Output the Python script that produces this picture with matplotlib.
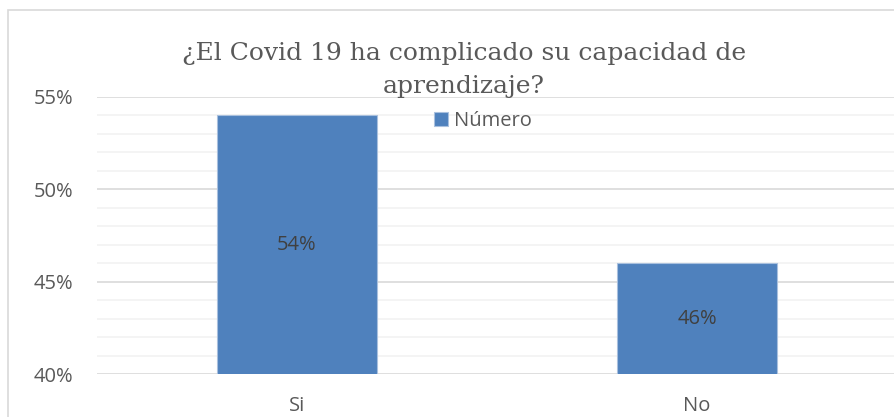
import matplotlib.pyplot as plt
from matplotlib.patches import Rectangle
from matplotlib.ticker import MultipleLocator, FuncFormatter

categories = ['Si', 'No']
valores = [54, 46]
etiquetas = ['54%', '46%']
serie = 'Número'
titulo = ['¿El Covid 19 ha complicado su capacidad de', 'aprendizaje?']

azul = '#4F81BD'
gris = '#595959'

plt.rcParams['font.family'] = ['Open Sans', 'DejaVu Sans']

W, H = 894, 417
fig = plt.figure(figsize=(W / 100, H / 100), dpi=100)

# marco del grafico
fig.patches.append(Rectangle((8 / W, -0.1), 1.2, 1 - 10 / H + 0.1, transform=fig.transFigure,
                             fill=False, edgecolor='#D9D9D9', linewidth=1.2, zorder=0))

ax = fig.add_axes([97 / W, 1 - 374 / H, 800 / W, 277 / H])
ax.set_facecolor('none')

x = range(len(categories))
ax.bar(x, valores, width=0.4, color=azul, edgecolor='#A9C0DE', linewidth=0.8,
       zorder=3, label=serie)

for xi, v, t in zip(x, valores, etiquetas):
    ax.text(xi, (40 + v) / 2, t, ha='center', va='center', fontsize=14.5, color='#404040', zorder=4)

ax.set_xlim(-0.5, 1.5)
ax.set_ylim(40, 55)
ax.yaxis.set_major_locator(MultipleLocator(5))
ax.yaxis.set_minor_locator(MultipleLocator(1))
ax.yaxis.set_major_formatter(FuncFormatter(lambda v, p: f'{v:.0f}%'))
ax.grid(axis='y', which='major', color='#D9D9D9', linewidth=1.2, zorder=1)
ax.grid(axis='y', which='minor', color='#F2F2F2', linewidth=1.2, zorder=1)

ax.set_xticks(list(x))
ax.set_xticklabels(categories)
ax.tick_params(axis='both', which='both', length=0, labelsize=14.5, labelcolor=gris)
ax.tick_params(axis='y', pad=17)
ax.tick_params(axis='x', pad=15.5)
for s in ax.spines.values():
    s.set_visible(False)

# titulo en dos lineas
for linea, yb in zip(titulo, [60, 93]):
    fig.text(464 / W, 1 - yb / H, linea, ha='center', va='baseline', fontsize=18,
             family=['DejaVu Serif'], color=gris)

ax.legend(loc='center left', bbox_to_anchor=(434 / W, 1 - 121 / H), bbox_transform=fig.transFigure,
          frameon=False, fontsize=14.5, labelcolor=gris, handlelength=0.7, handleheight=0.7,
          handletextpad=0.3, borderpad=0, borderaxespad=0)

fig.savefig('out.png', dpi=100)
